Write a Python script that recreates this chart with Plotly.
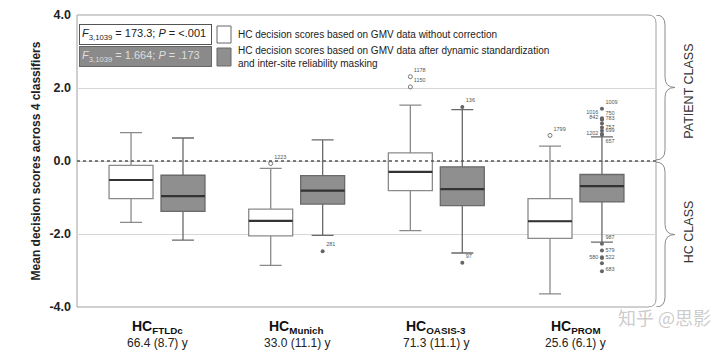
import plotly.graph_objects as go

# ---------------- data ----------------
groups = ["FTLDc", "Munich", "OASIS-3", "PROM"]
ages = ["66.4 (8.7) y", "33.0 (11.1) y", "71.3 (11.1) y", "25.6 (6.1) y"]

# HC decision scores without correction (white boxes)
raw_lower = [-1.68, -2.86, -1.91, -3.64]
raw_q1 = [-1.03, -2.05, -0.81, -2.12]
raw_median = [-0.52, -1.64, -0.30, -1.65]
raw_q3 = [-0.12, -1.32, 0.22, -1.03]
raw_upper = [0.78, -0.20, 1.53, 0.41]

# HC decision scores after dynamic standardization + masking (gray boxes)
adj_lower = [-2.17, -2.04, -2.52, -2.22]
adj_q1 = [-1.38, -1.18, -1.22, -1.12]
adj_median = [-0.96, -0.81, -0.77, -0.69]
adj_q3 = [-0.39, -0.40, -0.16, -0.37]
adj_upper = [0.63, 0.58, 1.41, 0.66]

# outliers
raw_out_group = [1, 2, 2, 3]
raw_out_val = [-0.07, 2.31, 2.03, 0.70]
raw_out_id = ["1223", "1178", "1150", "1799"]

adj_out_group = [1, 2, 2, 3, 3, 3, 3, 3, 3, 3, 3, 3, 3, 3, 3, 3, 3, 3]
adj_out_val = [-2.47, 1.48, -2.79, 1.43, 1.15, 1.13, 1.17, 1.03, 0.92, 0.83, 0.74, 0.71,
               -2.27, -2.45, -2.64, -2.66, -2.80, -3.02]
adj_out_id = ["281", "136", "97", "1009", "1016", "750", "783", "842", "757", "699", "1202", "657",
              "987", "579", "580", "522", "683", ""]
adj_out_pos = ["top right", "top right", "top right", "top right", "top left", "top right",
               "middle right", "top left", "middle right", "middle right", "middle left", "bottom right",
               "top right", "middle right", "middle left", "middle right", "bottom right", "middle right"]

f_raw = "<i>F</i><sub>3,1039</sub> = 173.3; <i>P</i> = &lt;.001"
f_adj = "<i>F</i><sub>3,1039</sub> = 1.664; <i>P</i> = .173"
legend_raw = "HC decision scores based on GMV data without correction"
legend_adj = "HC decision scores based on GMV data after dynamic standardization<br>and inter-site reliability masking"

# ---------------- styling / layout constants ----------------
OFF = 0.186
BW = 0.315
FONT = "Arial, Liberation Sans, sans-serif"
WHITE_LINE = "#8a8a8a"
GRAY_FILL = "#8f8f8f"
GRAY_LINE = "#6a6a6a"
# the page has an 8px body margin, so the figure is 8px smaller and shifted
W, H = 712, 352
ML, MT, PW, PH = 69, 7, 579, 292
MR, MB = W - ML - PW, H - MT - PH

idx = list(range(len(groups)))
fig = go.Figure()

fig.add_trace(go.Box(
    x=[i - OFF for i in idx], q1=raw_q1, median=raw_median, q3=raw_q3,
    lowerfence=raw_lower, upperfence=raw_upper, width=BW, whiskerwidth=0.5,
    fillcolor="white", line=dict(color=WHITE_LINE, width=1.3), boxpoints=False,
    hoverinfo="skip"))
fig.add_trace(go.Box(
    x=[i + OFF for i in idx], q1=adj_q1, median=adj_median, q3=adj_q3,
    lowerfence=adj_lower, upperfence=adj_upper, width=BW, whiskerwidth=0.5,
    fillcolor=GRAY_FILL, line=dict(color=GRAY_LINE, width=1.3), boxpoints=False,
    hoverinfo="skip"))

# darker median lines
for meds, off in ((raw_median, -OFF), (adj_median, OFF)):
    xs, ys = [], []
    for i, m in zip(idx, meds):
        xs += [i + off - BW / 2, i + off + BW / 2, None]
        ys += [m, m, None]
    fig.add_trace(go.Scatter(x=xs, y=ys, mode="lines",
                             line=dict(color="#333333", width=2.2), hoverinfo="skip"))

# outliers
fig.add_trace(go.Scatter(
    x=[g - OFF for g in raw_out_group], y=raw_out_val, mode="markers+text",
    text=raw_out_id, textposition="top right",
    textfont=dict(size=5.5, color="#555"),
    marker=dict(symbol="circle-open", size=4, color="#777", line=dict(width=1)),
    hoverinfo="skip"))
fig.add_trace(go.Scatter(
    x=[g + OFF for g in adj_out_group], y=adj_out_val, mode="markers+text",
    text=adj_out_id, textposition=adj_out_pos,
    textfont=dict(size=5.5, color="#555"),
    marker=dict(symbol="circle", size=4, color="#666"),
    hoverinfo="skip"))

shapes = []
# frame with rounded right corners
rx, ry = 8 / PW, 8 / PH
shapes.append(dict(type="path", xref="paper", yref="paper",
                   path=(f"M 0,0 L 0,1 L {1 - rx},1 Q 1,1 1,{1 - ry} L 1,{ry} "
                         f"Q 1,0 {1 - rx},0 Z"),
                   line=dict(color="#a0a0a0", width=1), layer="below"))
# dotted zero line
shapes.append(dict(type="line", xref="paper", yref="y", x0=0, x1=1, y0=0, y1=0,
                   line=dict(color="#555", width=1.5, dash="dot")))


def brace(top, bottom):
    x0 = 1.0
    x1 = 1 + 9 / PW
    x2 = 1 + 19 / PW
    m = (top + bottom) / 2
    r = 0.28
    return (f"M {x0},{top} Q {x1},{top} {x1},{top - r} L {x1},{m + r} "
            f"Q {x1},{m} {x2},{m} Q {x1},{m} {x1},{m - r} L {x1},{bottom + r} "
            f"Q {x1},{bottom} {x0},{bottom}")


shapes.append(dict(type="path", xref="paper", yref="y", path=brace(4, 0.03),
                   line=dict(color="#8a8a8a", width=1)))
shapes.append(dict(type="path", xref="paper", yref="y", path=brace(-0.03, -4),
                   line=dict(color="#8a8a8a", width=1)))


def px2paper(px, py):
    # reference-picture pixels -> paper coordinates
    return (px - 8 - ML) / PW, (H - MB - (py - 8)) / PH


# legend squares
sx0, sy0 = px2paper(217, 26)
sx1, sy1 = px2paper(231, 43)
shapes.append(dict(type="rect", xref="paper", yref="paper", x0=sx0, x1=sx1, y0=sy1, y1=sy0,
                   line=dict(color="#666", width=1), fillcolor="white"))
gx0, gy0 = px2paper(217, 48)
gx1, gy1 = px2paper(231, 66)
shapes.append(dict(type="rect", xref="paper", yref="paper", x0=gx0, x1=gx1, y0=gy1, y1=gy0,
                   line=dict(color="#666", width=1), fillcolor=GRAY_FILL))

annotations = []
# F-stat boxes
fx, fy1 = px2paper(145.5, 34.5)
_, fy2 = px2paper(145.5, 56.5)
annotations.append(dict(xref="paper", yref="paper", x=fx, y=fy1, text=f_raw, showarrow=False,
                        xanchor="center", yanchor="middle",
                        width=127, height=15, align="left", borderpad=2, borderwidth=1,
                        bordercolor="#555", bgcolor="white",
                        font=dict(size=11, color="#222", family=FONT)))
annotations.append(dict(xref="paper", yref="paper", x=fx, y=fy2, text=f_adj, showarrow=False,
                        xanchor="center", yanchor="middle",
                        width=127, height=15, align="left", borderpad=2, borderwidth=1,
                        bordercolor="#666", bgcolor="#8a8a8a",
                        font=dict(size=11, color="#dedede", family=FONT)))
lx, ly1 = px2paper(236, 34)
_, ly2 = px2paper(236, 57)
annotations.append(dict(xref="paper", yref="paper", x=lx, y=ly1, text=legend_raw, showarrow=False,
                        xanchor="left", yanchor="middle", align="left",
                        font=dict(size=10, color="#222", family=FONT)))
annotations.append(dict(xref="paper", yref="paper", x=lx, y=ly2, text=legend_adj, showarrow=False,
                        xanchor="left", yanchor="middle", align="left",
                        font=dict(size=10, color="#222", family=FONT)))

# group labels
for i, (g, a) in enumerate(zip(groups, ages)):
    annotations.append(dict(xref="x", yref="paper", x=i, y=0, yshift=-20, yanchor="middle",
                            text=f"<b>HC<sub>{g}</sub></b>", showarrow=False,
                            font=dict(size=14, color="#111", family=FONT)))
    annotations.append(dict(xref="x", yref="paper", x=i, y=0, yshift=-36, yanchor="middle",
                            text=a, showarrow=False,
                            font=dict(size=12, color="#222", family=FONT)))

# class labels
cx = 1 + 33 / PW
annotations.append(dict(xref="paper", yref="y", x=cx, y=1.9, text="PATIENT CLASS", textangle=-90,
                        xanchor="center", yanchor="middle",
                        showarrow=False, font=dict(size=12.5, color="#333", family=FONT)))
annotations.append(dict(xref="paper", yref="y", x=cx, y=-1.95, text="HC CLASS", textangle=-90,
                        xanchor="center", yanchor="middle",
                        showarrow=False, font=dict(size=12.5, color="#333", family=FONT)))

# watermark
annotations.append(dict(xref="paper", yref="paper", x=1 + 57 / PW, y=0, yshift=-25, xanchor="right",
                        text="知乎 @思影", showarrow=False,
                        font=dict(size=18, color="rgba(160,160,160,0.55)", family="Noto Sans CJK SC")))

fig.update_layout(
    width=W, height=H,
    margin=dict(l=ML, r=MR, t=MT, b=MB, autoexpand=False),
    plot_bgcolor="white", paper_bgcolor="white",
    showlegend=False,
    font=dict(family=FONT),
    shapes=shapes, annotations=annotations,
    xaxis=dict(range=[-0.573, 3.573], showticklabels=False, showgrid=False,
               zeroline=False, showline=False, fixedrange=True, automargin=False),
    yaxis=dict(range=[-4, 4], tickvals=[-4, -2, 0, 2, 4],
               ticktext=["<b>-4.0</b>", "<b>-2.0</b>", "<b>0.0</b>", "<b>2.0</b>", "<b>4.0</b>"],
               tickfont=dict(size=12.5, color="#222"),
               showgrid=True, gridcolor="#d6d6d6", gridwidth=1, automargin=False,
               zeroline=False, showline=False, ticks="", ticklabelstandoff=5,
               title=dict(text="<b>Mean decision scores across 4 classifiers</b>",
                          font=dict(size=12, color="#222"), standoff=6)),
)

fig.write_html("out.html")
